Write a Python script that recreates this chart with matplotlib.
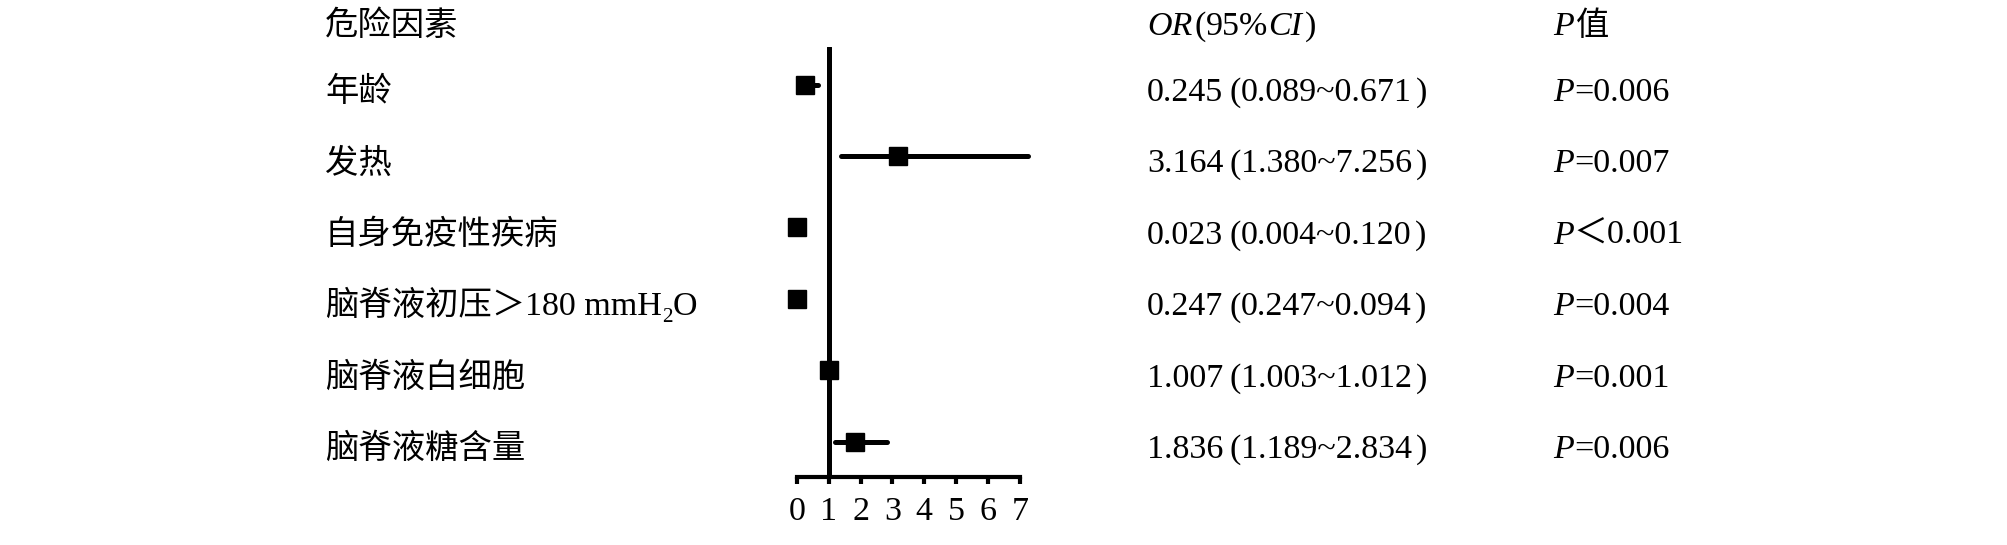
import matplotlib
matplotlib.use("Agg")
import matplotlib.pyplot as plt
import matplotlib.transforms as mtransforms

# ---- data ----
factors = ['年龄', '发热', '自身免疫性疾病', '脑脊液初压＞180 mmH_2O', '脑脊液白细胞', '脑脊液糖含量']
or_text = ['0.245(0.089~0.671)', '3.164(1.380~7.256)', '0.023(0.004~0.120)',
           '0.247(0.247~0.094)', '1.007(1.003~1.012)', '1.836(1.189~2.834)']
p_text = ['P=0.006', 'P=0.007', 'P＜0.001', 'P=0.004', 'P=0.001', 'P=0.006']
or_plot = [0.245, 3.164, 0.023, 0.02, 1.007, 1.836]
ci_lo = [0.089, 1.380, 0.004, 0.004, 1.003, 1.189]
ci_hi = [0.671, 7.256, 0.120, 0.094, 1.012, 2.834]
xticks = [0, 1, 2, 3, 4, 5, 6, 7]
header_factor = '危险因素'
header_or = [('OR', 'italic'), ('(', 'normal'), ('95%', 'normal'), ('CI', 'italic'), (')', 'normal')]
header_p = [('P', 'italic'), ('值', 'normal')]

FW, FH, DPI = 2007, 545, 100
FS = 24.5
FS_CJK = 24
FAM = ['Liberation Serif', 'Noto Sans CJK SC', 'DejaVu Sans']
FAM_CJK = ['Noto Sans CJK SC', 'Liberation Serif', 'DejaVu Sans']

fig = plt.figure(figsize=(FW / DPI, FH / DPI), dpi=DPI)
ax = fig.add_axes([796.7 / FW, 1 - 476.7 / FH, (1020 - 796.7) / FW, (476.7 - 46.7) / FH])

rows = list(range(1, len(factors) + 1))
ax.set_xlim(0, 7)
ax.set_ylim(6.49, 0.47)

for y, lo, hi in zip(rows, ci_lo, ci_hi):
    ax.plot([lo, hi], [y, y], color='black', lw=3.6, solid_capstyle='round', zorder=3, clip_on=False)
ax.plot(or_plot, rows, linestyle='none', marker='s', markersize=12.5, color='black', zorder=4, clip_on=False)
ax.axvline(1, color='black', lw=3.6, solid_capstyle='round', zorder=2)

for s in ['top', 'right', 'left']:
    ax.spines[s].set_visible(False)
ax.spines['bottom'].set_linewidth(3.0)
ax.set_yticks([])
ax.set_xticks(xticks)
ax.set_xticklabels([str(t) for t in xticks], fontfamily='Liberation Serif', fontsize=FS)
ax.tick_params(axis='x', direction='out', length=5, width=3.0, pad=9)

trans = mtransforms.blended_transform_factory(fig.transFigure, ax.transData)
renderer = fig.canvas.get_renderer()
BASE = 0.23


def rich(x_px, y, pieces):
    """pieces: (text, style, size, dy_points, family, pre_px)"""
    x = x_px
    for txt, style, size, dy, fam, pre in pieces:
        x += pre
        tr = mtransforms.offset_copy(trans, fig=fig, x=0, y=dy, units='points')
        t = fig.text(x / FW, y, txt, transform=tr, fontsize=size, fontstyle=style,
                     family=fam, va='baseline', ha='left')
        x += t.get_window_extent(renderer).width


def paren_pre(ch, open_adj, close_adj):
    if ch == '(':
        return open_adj
    if ch == ')':
        return close_adj
    return 0


def or_pieces(s):
    pieces, cur = [], ''
    for ch in s:
        if ch in '()':
            if cur:
                pieces.append((cur, 'normal', FS, 0, FAM, 0))
                cur = ''
            pieces.append((ch, 'normal', FS, 0, FAM, paren_pre(ch, 6, 4)))
        else:
            cur += ch
    if cur:
        pieces.append((cur, 'normal', FS, 0, FAM, 0))
    return pieces


def factor_pieces(s):
    out = []
    cur, cur_cjk = '', None
    for ch in s:
        is_cjk = ord(ch) > 0x2E80
        if cur_cjk is None or is_cjk == cur_cjk:
            cur += ch
        else:
            out.append((cur, cur_cjk))
            cur = ch
        cur_cjk = is_cjk
    out.append((cur, cur_cjk))
    pieces = []
    for seg, cjk in out:
        if cjk:
            pieces.append((seg, 'normal', FS_CJK, 0, FAM_CJK, 0))
        elif '_' in seg:
            a, b = seg.split('_', 1)
            pieces.append((a, 'normal', FS, 0, FAM, 0))
            pieces.append((b[0], 'normal', FS * 0.62, -5, FAM, 0))
            pieces.append((b[1:], 'normal', FS, 0, FAM, 0))
        else:
            pieces.append((seg, 'normal', FS, 0, FAM, 0))
    return pieces


HEAD_Y = 0.07
X_LAB, X_OR, X_P = 325, 1147, 1553

rich(X_LAB, HEAD_Y + BASE, [(header_factor, 'normal', FS_CJK, 0, FAM_CJK, 0)])
rich(X_OR, HEAD_Y + BASE, [(t, s, FS, 0, FAM, paren_pre(t, 2, 3)) for t, s in header_or])
rich(X_P, HEAD_Y + BASE, [('P', 'italic', FS, 0, FAM, 0), ('值', 'normal', FS_CJK, 0, FAM_CJK, 2)])

for y, f, o, p in zip(rows, factors, or_text, p_text):
    rich(X_LAB, y + BASE, factor_pieces(f))
    rich(X_OR, y + BASE, or_pieces(o))
    rich(X_P, y + BASE, [(p[0], 'italic', FS, 0, FAM, 0), (p[1:], 'normal', FS, 0, FAM, 0)])

fig.savefig('out.png', dpi=DPI, facecolor='white')
